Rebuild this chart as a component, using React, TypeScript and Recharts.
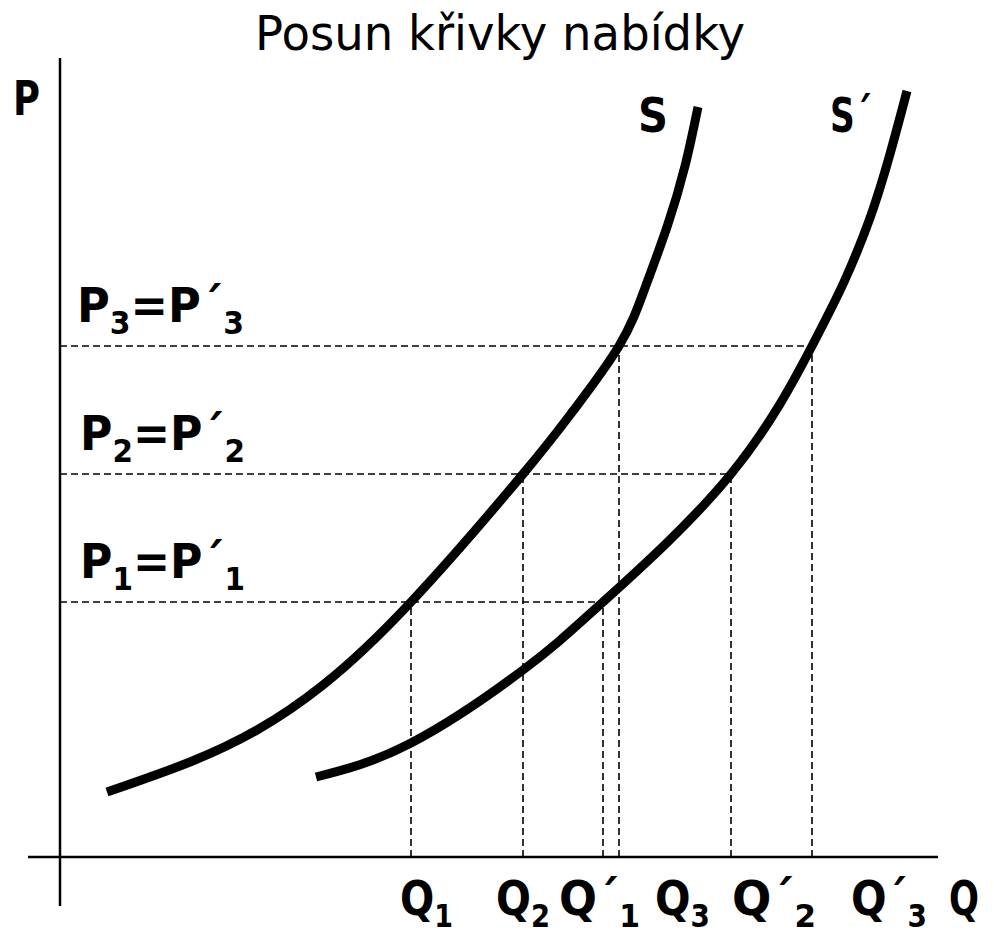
import React from 'react';
import { LineChart, Line, XAxis, YAxis, ReferenceLine } from 'recharts';

// supply curves (Q, P in chart units)
const supplyS = [
  { q: 47, p: 65 },
  { q: 130, p: 95 },
  { q: 197, p: 127 },
  { q: 263, p: 172 },
  { q: 351, p: 255 },
  { q: 463, p: 383 },
  { q: 513, p: 446 },
  { q: 559, p: 511 },
  { q: 585, p: 569 },
  { q: 607, p: 630 },
  { q: 625, p: 691 },
  { q: 638, p: 750 },
];

const supplyS2 = [
  { q: 256, p: 80 },
  { q: 351, p: 114 },
  { q: 463, p: 187 },
  { q: 543, p: 255 },
  { q: 671, p: 383 },
  { q: 752, p: 511 },
  { q: 784, p: 575 },
  { q: 810, p: 639 },
  { q: 830, p: 703 },
  { q: 847, p: 766 },
];

const priceLevels = [255, 383, 511]; // P1, P2, P3
const qOnS = [351, 463, 559]; // Q1, Q2, Q3
const qOnS2 = [543, 671, 752]; // Q'1, Q'2, Q'3

const xDomain = [-32, 878];
const yDomain = [-49, 799];

const title = 'Posun křivky nabídky';
const priceLabels = [
  [['P', false], ['1', true], ['=P´', false], ['1', true]],
  [['P', false], ['2', true], ['=P´', false], ['2', true]],
  [['P', false], ['3', true], ['=P´', false], ['3', true]],
];
const qLabels = [
  [['Q', false], ['1', true]],
  [['Q', false], ['2', true]],
  [['Q´', false], ['1', true]],
  [['Q', false], ['3', true]],
  [['Q´', false], ['2', true]],
  [['Q´', false], ['3', true]],
  [['Q', false]],
];

const FONT = '"DejaVu Sans", Verdana, sans-serif';

function Lbl({ x, y, w, parts, size = 48, sub = 32, weight = 'bold' }: any) {
  let low = false;
  return (
    <text
      x={x}
      y={y}
      textLength={w}
      lengthAdjust="spacingAndGlyphs"
      fontFamily={FONT}
      fontWeight={weight}
      fontSize={size}
      fill="#000"
    >
      {parts.map(([t, isSub]: [string, boolean], i: number) => {
        let dy = 0;
        if (isSub && !low) dy = 12;
        if (!isSub && low) dy = -12;
        low = isSub;
        return (
          <tspan key={i} dy={dy} fontSize={isSub ? sub : size}>
            {t}
          </tspan>
        );
      })}
    </text>
  );
}

const dashed = { stroke: '#000', strokeDasharray: '7 4', strokeWidth: 1.6 };

export default function App() {
  const priceX = [80, 80, 77];
  const priceY = [578, 450, 322];
  const qX = [400, 496, 559, 655, 732, 851, 949];
  const qW = [53, 54, 81, 55, 84, 76, 30];

  return (
    <div style={{ position: 'absolute', left: 0, top: 0, width: 994, height: 932, background: '#fff' }}>
      <LineChart width={994} height={932} margin={{ top: 58, right: 56, bottom: 26, left: 28 }}>
        <XAxis type="number" dataKey="q" domain={xDomain} hide allowDataOverflow />
        <YAxis type="number" dataKey="p" domain={yDomain} hide allowDataOverflow />

        {priceLevels.map((p, i) => (
          <ReferenceLine key={'h' + i} segment={[{ x: 0, y: p }, { x: qOnS2[i], y: p }]} {...dashed} />
        ))}
        {priceLevels.map((p, i) => (
          <ReferenceLine key={'v' + i} segment={[{ x: qOnS[i], y: 0 }, { x: qOnS[i], y: p }]} {...dashed} />
        ))}
        {priceLevels.map((p, i) => (
          <ReferenceLine key={'w' + i} segment={[{ x: qOnS2[i], y: 0 }, { x: qOnS2[i], y: p }]} {...dashed} />
        ))}

        <ReferenceLine segment={[{ x: xDomain[0], y: 0 }, { x: xDomain[1], y: 0 }]} stroke="#000" strokeWidth={2.5} />
        <ReferenceLine segment={[{ x: 0, y: yDomain[0] }, { x: 0, y: yDomain[1] }]} stroke="#000" strokeWidth={2.5} />

        <Line data={supplyS} dataKey="p" type="natural" stroke="#000" strokeWidth={9} dot={false} isAnimationActive={false} />
        <Line data={supplyS2} dataKey="p" type="natural" stroke="#000" strokeWidth={9} dot={false} isAnimationActive={false} />
      </LineChart>

      <svg width={994} height={932} style={{ position: 'absolute', left: 0, top: 0, pointerEvents: 'none' }}>
        <Lbl x={255} y={50} w={490} parts={[[title, false]]} weight="normal" />
        <Lbl x={13} y={115} w={27} parts={[['P', false]]} />
        <Lbl x={638} y={132} w={30} parts={[['S', false]]} />
        <Lbl x={830} y={132} w={42} parts={[['S´', false]]} />
        {priceLabels.map((parts, i) => (
          <Lbl key={'pl' + i} x={priceX[i]} y={priceY[i]} w={i === 2 ? 167 : 165} parts={parts} />
        ))}
        {qLabels.map((parts, i) => (
          <Lbl key={'ql' + i} x={qX[i]} y={915} w={qW[i]} parts={parts} />
        ))}
      </svg>
    </div>
  );
}
